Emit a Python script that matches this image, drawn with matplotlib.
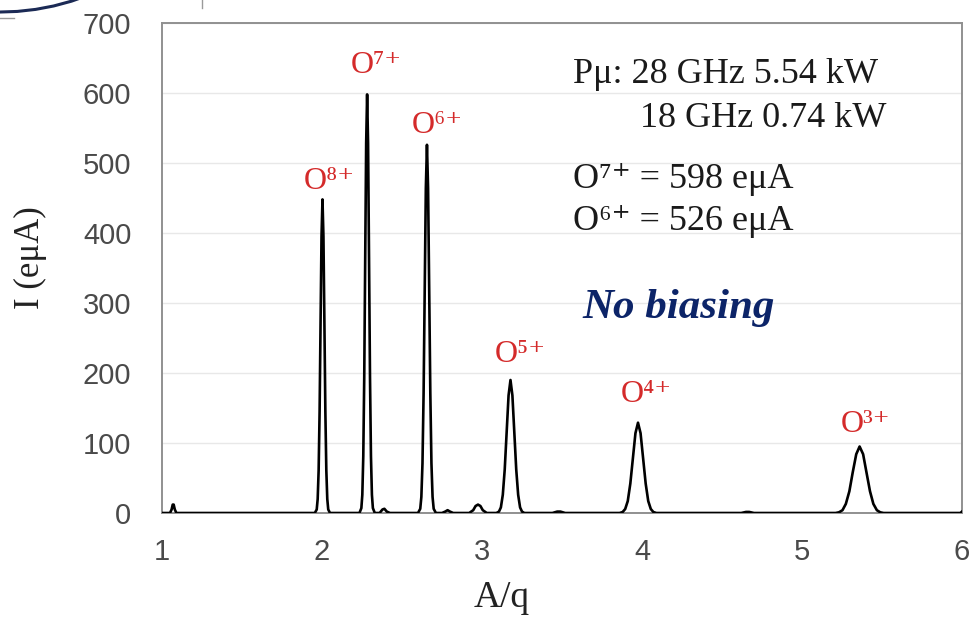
import matplotlib
matplotlib.use("Agg")
import matplotlib.pyplot as plt
from matplotlib.patches import Arc
from matplotlib.lines import Line2D

# Oxygen charge-state spectrum (analysed beam current vs. mass-to-charge ratio)
aq = [
    1.000, 1.050, 1.060, 1.067, 1.073, 1.080, 1.090,
    1.955, 1.967, 1.973, 1.979, 1.985, 1.991, 1.997, 2.003, 2.009, 2.015, 2.021, 2.027, 2.033, 2.039, 2.050,
    2.234, 2.246, 2.252, 2.258, 2.264, 2.270, 2.276, 2.282, 2.288, 2.294, 2.300, 2.306, 2.312, 2.318, 2.330,
    2.360, 2.378, 2.390, 2.405, 2.425,
    2.600, 2.614, 2.621, 2.628, 2.635, 2.642, 2.649, 2.656, 2.663, 2.670, 2.677, 2.684, 2.691, 2.698, 2.712,
    2.750, 2.770, 2.785, 2.800, 2.820,
    2.920, 2.945, 2.960, 2.975, 2.990, 3.005, 3.030,
    3.090, 3.106, 3.118, 3.130, 3.142, 3.154, 3.166, 3.178, 3.190, 3.202, 3.214, 3.226, 3.238, 3.250, 3.265,
    3.440, 3.470, 3.490, 3.520,
    3.860, 3.879, 3.895, 3.911, 3.927, 3.943, 3.959, 3.975, 3.991, 4.007, 4.023, 4.039, 4.055, 4.071, 4.090,
    4.620, 4.650, 4.670, 4.700,
    5.210, 5.231, 5.253, 5.274, 5.296, 5.317, 5.339, 5.360, 5.382, 5.403, 5.425, 5.446, 5.468, 5.489, 5.510,
    5.990, 6.000,
]
current = [
    0, 0, 5, 12, 12, 5, 0,
    0, 5, 20, 61, 145, 272, 395, 448, 395, 272, 145, 61, 20, 5, 0,
    0, 7, 26, 81, 194, 363, 528, 598, 528, 363, 194, 81, 26, 7, 0,
    0, 5, 6, 2, 0,
    0, 6, 23, 71, 171, 319, 464, 526, 464, 319, 171, 71, 23, 6, 0,
    0, 2, 4, 2, 0,
    0, 4, 10, 12, 10, 4, 0,
    0, 2, 8, 26, 62, 115, 168, 190, 168, 115, 62, 26, 8, 2, 0,
    0, 2, 2, 0,
    0, 1.4, 5.7, 17, 42, 78, 114, 129, 114, 78, 42, 17, 5.7, 1.4, 0,
    0, 1.5, 1.5, 0,
    0, 1, 4, 13, 31, 58, 84, 95, 84, 58, 31, 13, 4, 1, 0,
    0, 2,
]

# Peak labels: charge state, label centre (x, y)
ion_labels = ["O⁸⁺", "O⁷⁺", "O⁶⁺", "O⁵⁺", "O⁴⁺", "O³⁺"]
ion_label_x = [2.044, 2.338, 2.720, 3.240, 4.025, 5.400]
ion_label_y = [474, 639, 554, 226, 169, 126]

x_ticks = [1, 2, 3, 4, 5, 6]
y_ticks = [0, 100, 200, 300, 400, 500, 600, 700]

serif = ["Liberation Serif", "DejaVu Serif"]
sans = ["Liberation Sans", "DejaVu Sans"]

fig = plt.figure(figsize=(9.71, 6.2), dpi=100)
fig.patch.set_facecolor("white")
ax = fig.add_axes([162 / 971, 1 - 513 / 620, 800 / 971, 490 / 620])

ax.plot(aq, current, color="black", lw=1.9, solid_joinstyle="round", zorder=3)

ax.set_xlim(1, 6)
ax.set_ylim(0, 700)
ax.set_xticks(x_ticks)
ax.set_yticks(y_ticks)
ax.set_xticklabels([str(v) for v in x_ticks], fontfamily=sans, fontsize=21, color="#4a4a4a")
ax.set_yticklabels([str(v) for v in y_ticks], fontfamily=sans, fontsize=21, color="#4a4a4a")
ax.tick_params(axis="both", length=0)
ax.tick_params(axis="y", pad=22)
ax.tick_params(axis="x", pad=18)
ax.grid(axis="y", color="#e8e8e8", lw=1.0, zorder=0)
for s in ax.spines.values():
    s.set_color("#909090")
    s.set_linewidth(1.4)

for txt, lx, ly in zip(ion_labels, ion_label_x, ion_label_y):
    ax.text(lx, ly, txt, color="#d42a2a", fontsize=23, fontfamily=serif,
            ha="center", va="center")

info = dict(color="#1a1a1a", fontsize=26, fontfamily=serif, ha="left", va="center")
ax.text(3.569, 626, "Pμ: 28 GHz 5.54 kW", **info)
ax.text(3.990, 564, "18 GHz 0.74 kW", **info)
ax.text(3.569, 476, "O⁷⁺ = 598 eμA", **info)
ax.text(3.569, 416, "O⁶⁺ = 526 eμA", **info)
ax.text(3.625, 293, "No biasing", color="#0c2468", fontsize=31, fontfamily=serif,
        fontweight="bold", fontstyle="italic", ha="left", va="center")

fig.text(30 / 971, 1 - 258 / 620, "I (eμA)", rotation=90, fontsize=25,
         fontfamily=serif, color="#222222", ha="center", va="center")
fig.text(502 / 971, 1 - 598 / 620, "A/q", fontsize=27,
         fontfamily=serif, color="#222222", ha="center", va="center")

# Slide decoration in the upper-left corner
fig.add_artist(Arc((0, (620 + 228) / 620), 480 / 971, 480 / 620, theta1=240, theta2=289,
                   transform=fig.transFigure, color="#1b2a55", lw=2.2))
fig.add_artist(Line2D([0, 14 / 971], [1 - 18 / 620, 1 - 18 / 620], transform=fig.transFigure,
                      color="#9a9a9a", lw=1.0))
fig.add_artist(Line2D([202 / 971, 202 / 971], [1, 1 - 8 / 620], transform=fig.transFigure,
                      color="#9a9a9a", lw=1.0))

fig.savefig("out.png", dpi=100, facecolor="white")
